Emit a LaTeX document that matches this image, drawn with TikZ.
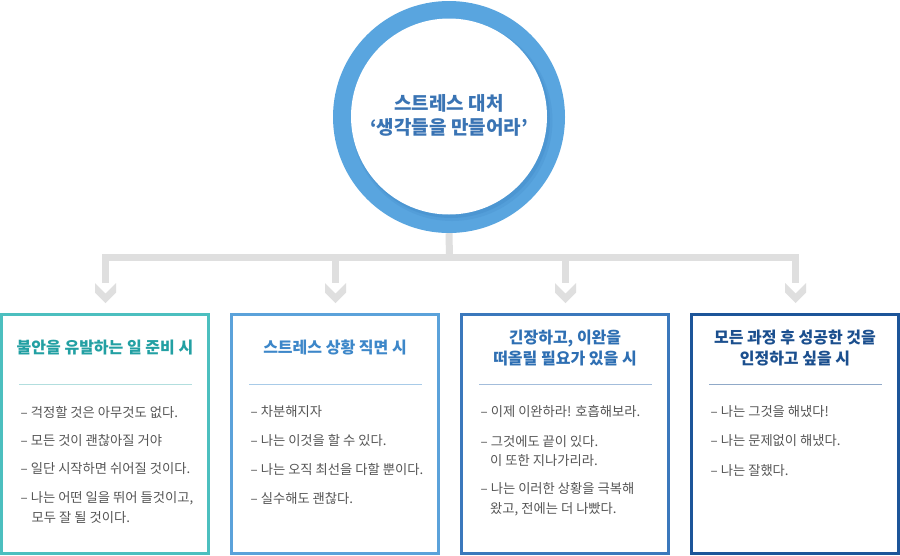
\documentclass[tikz,border=0pt]{standalone}
\usepackage{fontspec}
\setmainfont{Noto Sans CJK KR}
\definecolor{ringblue}{HTML}{59A5DF}
\definecolor{shadowblue}{HTML}{2F74B5}
\definecolor{hubtext}{HTML}{3A74B4}
\definecolor{linegray}{HTML}{DFDFDF}
\definecolor{bodygray}{HTML}{555555}
\definecolor{cA}{HTML}{4CBFBF}\definecolor{tA}{HTML}{22A0A3}\definecolor{sA}{HTML}{B2DEDE}
\definecolor{cB}{HTML}{5BA2DA}\definecolor{tB}{HTML}{3D87C9}\definecolor{sB}{HTML}{A8CBE8}
\definecolor{cC}{HTML}{3B78BC}\definecolor{tC}{HTML}{2E6FB3}\definecolor{sC}{HTML}{A3BDDB}
\definecolor{cD}{HTML}{1D5599}\definecolor{tD}{HTML}{1B4F8E}\definecolor{sD}{HTML}{90A9C8}
\begin{document}
\begin{tikzpicture}[x=1pt,y=-1pt,
  conn/.style={draw=linegray, line width=7pt, line join=miter},
  frame/.style={draw, line width=3pt, minimum width=207pt, minimum height=239pt, inner sep=0pt, fill=white},
  ttl/.style={font=\fontsize{16}{19}\selectfont\bfseries, inner sep=0pt, text height=0.8em, text depth=0.1em},
  item/.style={anchor=west, font=\fontsize{13.3}{16}\selectfont, text=bodygray, inner sep=0pt, text height=0.78em, text depth=0.12em},
  sep/.style={line width=1pt}]
\useasboundingbox (0,0) rectangle (900,555);
\fill[white] (0,0) rectangle (900,555);

% hub circle
\node[circle, fill=ringblue, minimum size=232pt, inner sep=0pt] (hub) at (449,117) {};
\fill[shadowblue, opacity=0.14] (452,120.5) circle (100.5pt);
\fill[shadowblue, opacity=0.18] (451,119) circle (99pt);
\node[circle, fill=white, minimum size=196pt, inner sep=0pt] (core) at (449,116.5) {};
\node[font=\fontsize{19}{23.5}\selectfont\bfseries, text=hubtext, align=center, inner sep=0pt] (hubtext) at (449,115.5) {스트레스 대처\\‘생각들을 만들어라’};

% connectors
\coordinate (j0) at (449.5,257.5);
\coordinate (s1) at (105.5,257.5);
\coordinate (s2) at (335.5,257.5);
\coordinate (s3) at (565.5,257.5);
\coordinate (s4) at (795.5,257.5);
\coordinate (e1) at (105.5,283);
\coordinate (e2) at (335.5,283);
\coordinate (e3) at (565.5,283);
\coordinate (e4) at (795.5,283);
\draw[conn] (hub.south) -- (j0);
\draw[conn] (e1) -- (s1) -- (s4) -- (e4);
\draw[conn] (s2) -- (e2);
\draw[conn] (s3) -- (e3);
\foreach \cx in {105.5,335.5,565.5,795.5}{
  \fill[linegray] (\cx-10.5,283) -- ++(10.5,10.5) -- ++(10.5,-10.5) -- ++(0,9.5) -- ++(-10.5,10.5) -- ++(-10.5,-10.5) -- cycle;
}

% boxes
\node[frame, draw=cA] (b1) at (105,434) {};
\node[frame, draw=cB] (b2) at (335,434) {};
\node[frame, draw=cC] (b3) at (565,434) {};
\node[frame, draw=cD] (b4) at (795,434) {};

\draw[sep, sA] (19,384) -- (192,384);
\draw[sep, sB] (249,384) -- (422,384);
\draw[sep, sC] (479,384) -- (652,384);
\draw[sep, sD] (709,384) -- (882,384);

% titles
\node[ttl, text=tA] (t1) at (105,349.5) {불안을 유발하는 일 준비 시};
\node[ttl, text=tB] (t2) at (335,350) {스트레스 상황 직면 시};
\node[ttl, text=tC] (t3a) at (565,339.5) {긴장하고, 이완을};
\node[ttl, text=tC] (t3b) at (565,360.5) {떠올릴 필요가 있을 시};
\node[ttl, text=tD] (t4a) at (795,339.5) {모든 과정 후 성공한 것을};
\node[ttl, text=tD] (t4b) at (795,360.5) {인정하고 싶을 시};

% box 1 items
\node[item] (i11) at (20.5,414.5) {– 걱정할 것은 아무것도 없다.};
\node[item] (i12) at (20.5,442.5) {– 모든 것이 괜찮아질 거야};
\node[item] (i13) at (20.5,470.5) {– 일단 시작하면 쉬어질 것이다.};
\node[item] (i14) at (20.5,499.5) {– 나는 어떤 일을 뛰어 들것이고,};
\node[item] (i15) at (31.5,519) {모두 잘 될 것이다.};
% box 2 items
\node[item] (i21) at (250.5,413.5) {– 차분해지자};
\node[item] (i22) at (250.5,442) {– 나는 이것을 할 수 있다.};
\node[item] (i23) at (250.5,471) {– 나는 오직 최선을 다할 뿐이다.};
\node[item] (i24) at (250.5,500) {– 실수해도 괜찮다.};
% box 3 items
\node[item] (i31) at (480.5,413.5) {– 이제 이완하라! 호흡해보라.};
\node[item] (i32) at (480.5,443) {– 그것에도 끝이 있다.};
\node[item] (i33) at (490,462) {이 또한 지나가리라.};
\node[item] (i34) at (480.5,490.5) {– 나는 이러한 상황을 극복해};
\node[item] (i35) at (490,510.5) {왔고, 전에는 더 나빴다.};
% box 4 items
\node[item] (i41) at (710.5,413) {– 나는 그것을 해냈다!};
\node[item] (i42) at (710.5,442) {– 나는 문제없이 해냈다.};
\node[item] (i43) at (710.5,472) {– 나는 잘했다.};
\end{tikzpicture}
\end{document}
